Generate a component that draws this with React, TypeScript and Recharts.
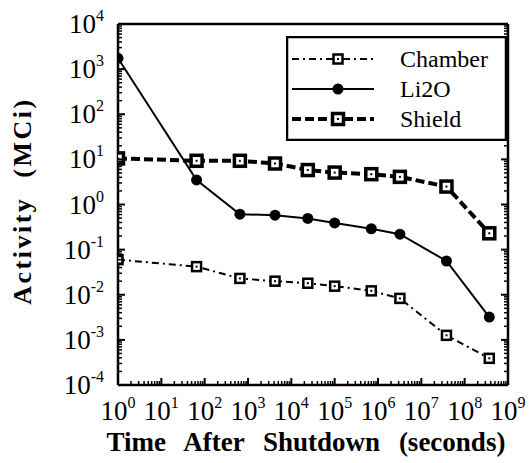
import { LineChart, Line, XAxis, YAxis, Legend, Label } from 'recharts';

// time after shutdown (s)
const times = [1, 65, 650, 4200, 24000, 1.0e5, 7.0e5, 3.2e6, 3.8e7, 3.7e8];
// activity (MCi)
const chamber = [0.06, 0.042, 0.023, 0.02, 0.018, 0.0155, 0.0122, 0.0083, 0.00126, 0.00039];
const li2o = [1740, 3.5, 0.61, 0.58, 0.49, 0.39, 0.29, 0.22, 0.056, 0.0032];
const shield = [10.5, 9.3, 9.3, 8.1, 5.8, 5.1, 4.7, 4.1, 2.5, 0.23];

const xMajor = [1, 1e1, 1e2, 1e3, 1e4, 1e5, 1e6, 1e7, 1e8, 1e9];
const yMajor = [1e-4, 1e-3, 1e-2, 1e-1, 1, 1e1, 1e2, 1e3, 1e4];
const minorSteps = [2, 3, 4, 5, 6, 7, 8, 9];

const withMinors = (majors: number[]) => {
  const out: number[] = [];
  majors.forEach((m, i) => {
    out.push(m);
    if (i < majors.length - 1) minorSteps.forEach((s) => out.push(m * s));
  });
  return out;
};
const xTicks = withMinors(xMajor);
const yTicks = withMinors(yMajor);

const data = times.map((t, i) => ({
  t,
  chamber: chamber[i],
  li2o: li2o[i],
  shield: shield[i],
}));

const FONT = '"Liberation Serif", "Times New Roman", serif';

const expOf = (v: number) => Math.round(Math.log10(v));
const isMajor = (v: number) => Math.abs(Math.log10(v) - expOf(v)) < 1e-6;

function BottomTick(props: any) {
  const { x, y, payload } = props;
  const v = payload.value;
  const major = isMajor(v);
  return (
    <g>
      <line x1={x} x2={x} y1={y} y2={y - (major ? 7 : 4)} stroke="#000" strokeWidth={major ? 2 : 1.5} />
      {major && (
        <text x={x} y={y + 35} textAnchor="middle" fontFamily={FONT} fontSize={27} fill="#000">
          10<tspan dy={-12} fontSize={16}>{expOf(v)}</tspan>
        </text>
      )}
    </g>
  );
}

function TopTick(props: any) {
  const { x, y, payload } = props;
  const major = isMajor(payload.value);
  return <line x1={x} x2={x} y1={y} y2={y + (major ? 7 : 4)} stroke="#000" strokeWidth={major ? 2 : 1.5} />;
}

function LeftTick(props: any) {
  const { x, y, payload } = props;
  const v = payload.value;
  const major = isMajor(v);
  return (
    <g>
      <line x1={x} x2={x + (major ? 7 : 4)} y1={y} y2={y} stroke="#000" strokeWidth={major ? 2 : 1.5} />
      {major && (
        <text x={x - 14} y={y + 9} textAnchor="end" fontFamily={FONT} fontSize={27} fill="#000">
          10<tspan dy={-12} fontSize={16}>{expOf(v)}</tspan>
        </text>
      )}
    </g>
  );
}

function RightTick(props: any) {
  const { x, y, payload } = props;
  const major = isMajor(payload.value);
  return <line x1={x} x2={x - (major ? 7 : 4)} y1={y} y2={y} stroke="#000" strokeWidth={major ? 2 : 1.5} />;
}

function SquareDot(props: any) {
  const { cx, cy, size = 9, sw = 2.5 } = props;
  if (cx == null || cy == null) return null;
  return (
    <g>
      <rect x={cx - size / 2} y={cy - size / 2} width={size} height={size} fill="#fff" stroke="#000" strokeWidth={sw} />
      <rect x={cx - 1} y={cy - 1} width={2} height={2} fill="#000" />
    </g>
  );
}

function CircleDot(props: any) {
  const { cx, cy } = props;
  if (cx == null || cy == null) return null;
  return <circle cx={cx} cy={cy} r={5.5} fill="#000" />;
}

const series = [
  { key: 'chamber', name: 'Chamber', dash: '7 4 2 4', width: 2 },
  { key: 'li2o', name: 'Li2O', dash: undefined, width: 2 },
  { key: 'shield', name: 'Shield', dash: '9 4', width: 4 },
];
const legendRowY = [23, 53, 83];

function LegendBox() {
  return (
    <svg width={221} height={105} style={{ display: 'block' }}>
      <rect x={1} y={1} width={219} height={103} fill="#fff" stroke="#000" strokeWidth={2.5} />
      {series.map((s, i) => {
        const cy = legendRowY[i];
        return (
          <g key={s.key}>
            <line x1={6} x2={88} y1={cy} y2={cy} stroke="#000" strokeWidth={s.width} strokeDasharray={s.dash} />
            {s.key === 'li2o' ? (
              <circle cx={52} cy={cy} r={5.5} fill="#000" />
            ) : (
              <SquareDot cx={52} cy={cy} size={s.key === 'shield' ? 11 : 9} sw={s.key === 'shield' ? 3.5 : 2.5} />
            )}
            <text x={114} y={cy + 8} fontFamily={FONT} fontSize={24} fill="#000">
              {s.name}
            </text>
          </g>
        );
      })}
    </svg>
  );
}

export default function App() {
  return (
    <div style={{ position: 'absolute', left: 0, top: 0, background: '#fff' }}>
      <style>{`body{margin:0;background:#fff}`}</style>
      <LineChart width={532} height={463} data={data} margin={{ top: 23, right: 23, bottom: 0, left: 0 }}>
        <XAxis
          xAxisId="x"
          dataKey="t"
          type="number"
          scale="log"
          domain={[1, 1e9]}
          ticks={xTicks}
          interval={0}
          allowDataOverflow
          height={78}
          tickSize={0}
          tickMargin={0}
          tickLine={false}
          axisLine={{ stroke: '#000', strokeWidth: 2.5 }}
          tick={<BottomTick />}
        >
          <Label
            content={() => (
              <text x={306} y={451} textAnchor="middle" fontFamily={FONT} fontWeight="bold" fontSize={27} style={{ wordSpacing: 12 }} fill="#000">
                Time After Shutdown (seconds)
              </text>
            )}
          />
        </XAxis>
        <XAxis
          xAxisId="top"
          orientation="top"
          type="number"
          scale="log"
          domain={[1, 1e9]}
          ticks={xTicks}
          interval={0}
          allowDataOverflow
          height={1}
          tickSize={0}
          tickMargin={0}
          tickLine={false}
          axisLine={{ stroke: '#000', strokeWidth: 2.5 }}
          tick={<TopTick />}
        />
        <YAxis
          yAxisId="y"
          type="number"
          scale="log"
          domain={[1e-4, 1e4]}
          ticks={yTicks}
          interval={0}
          allowDataOverflow
          width={118}
          tickSize={0}
          tickMargin={0}
          tickLine={false}
          axisLine={{ stroke: '#000', strokeWidth: 2.5 }}
          tick={<LeftTick />}
        >
          <Label
            content={() => (
              <text
                x={31}
                y={201}
                transform="rotate(-90 31 201)"
                textAnchor="middle"
                fontFamily={FONT}
                fontWeight="bold"
                fontSize={26}
                style={{ wordSpacing: 10, letterSpacing: 2.5 }}
                fill="#000"
              >
                Activity (MCi)
              </text>
            )}
          />
        </YAxis>
        <YAxis
          yAxisId="right"
          orientation="right"
          type="number"
          scale="log"
          domain={[1e-4, 1e4]}
          ticks={yTicks}
          interval={0}
          allowDataOverflow
          width={1}
          tickSize={0}
          tickMargin={0}
          tickLine={false}
          axisLine={{ stroke: '#000', strokeWidth: 2.5 }}
          tick={<RightTick />}
        />
        <Legend
          layout="horizontal"
          verticalAlign="middle"
          align="center"
          content={<LegendBox />}
          wrapperStyle={{ position: 'absolute', left: 286, top: 36, width: 221, height: 105 }}
        />
        <Line
          xAxisId="x"
          yAxisId="y"
          dataKey="chamber"
          name="Chamber"
          type="linear"
          stroke="#000"
          strokeWidth={2}
          strokeDasharray="7 4 2 4"
          dot={<SquareDot size={9} sw={2.5} />}
          isAnimationActive={false}
        />
        <Line
          xAxisId="x"
          yAxisId="y"
          dataKey="li2o"
          name="Li2O"
          type="linear"
          stroke="#000"
          strokeWidth={2}
          dot={<CircleDot />}
          isAnimationActive={false}
        />
        <Line
          xAxisId="x"
          yAxisId="y"
          dataKey="shield"
          name="Shield"
          type="linear"
          stroke="#000"
          strokeWidth={4}
          strokeDasharray="9 4"
          dot={<SquareDot size={11} sw={3.5} />}
          isAnimationActive={false}
        />
      </LineChart>
    </div>
  );
}
